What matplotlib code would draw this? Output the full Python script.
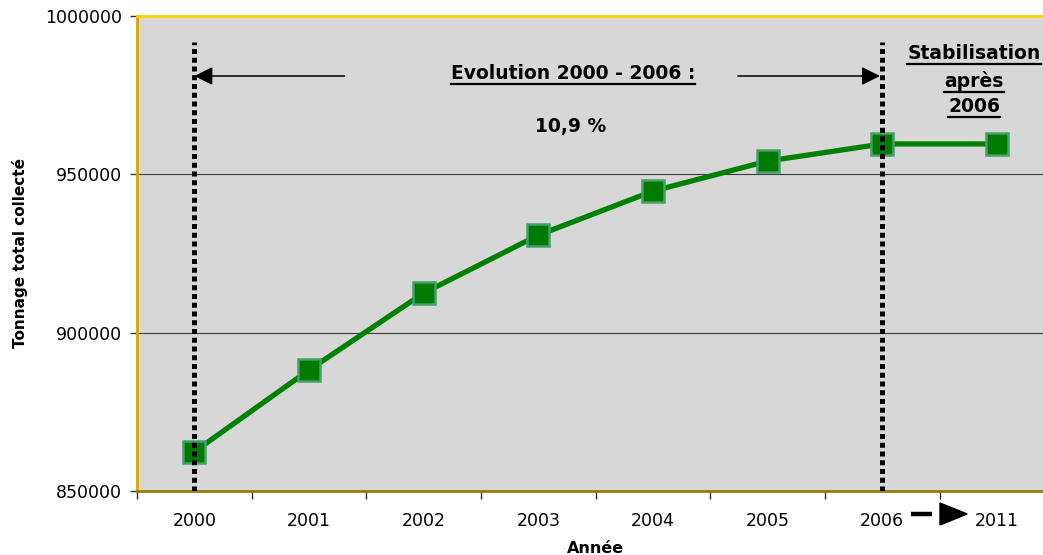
import numpy as np
import matplotlib.pyplot as plt
from matplotlib.lines import Line2D
from matplotlib.patches import Polygon
import matplotlib.transforms as mtransforms

plt.rcParams['font.family'] = ['DejaVu Sans']

years = ['2000', '2001', '2002', '2003', '2004', '2005', '2006', '2011']
tonnage = [862400, 888200, 912500, 930800, 944700, 954200, 959600, 959600]
y_ticks = [850000, 900000, 950000, 1000000]
x = np.arange(len(years))

fig = plt.figure(figsize=(10.43, 5.55), dpi=100)
ax = fig.add_axes([137 / 1043, 64 / 555, 917.3 / 1043, 475 / 555])
ax.set_facecolor('#d7d7d7')

ax.set_xlim(-0.5, len(years) - 0.5)
ax.set_ylim(850000, 1000000)

# horizontal grid only on the inner ticks
for v in [900000, 950000]:
    ax.axhline(v, color='#3a3a3a', lw=0.8, zorder=1)

# courbe du tonnage
ax.plot(x, tonnage, color='#008000', lw=3.8, zorder=3,
        marker='s', markersize=16, markerfacecolor='#007a00',
        markeredgecolor='#45a068', markeredgewidth=1.8)

# bornes 2000 et 2006
for xv in [0, 6]:
    ax.vlines(xv, 850000, 991800, color='black', lw=3.6,
              linestyles=(0, (1.0, 0.75)), zorder=4)

# flèches de l'évolution
arrow = dict(arrowstyle='-|>', color='black', lw=1.1, mutation_scale=28,
             shrinkA=0, shrinkB=0)
ax.annotate('', xy=(0.0, 981050), xytext=(1.31, 981050), arrowprops=arrow, zorder=5)
ax.annotate('', xy=(5.98, 981050), xytext=(4.74, 981050), arrowprops=arrow, zorder=5)

texts = []
texts.append(ax.text(3.30, 981700, 'Evolution 2000 - 2006 :', ha='center', va='center',
                     fontsize=13.5, fontweight='bold', zorder=5))
ax.text(3.28, 965000, '10,9 %', ha='center', va='center',
        fontsize=13.5, fontweight='bold', zorder=5)
for label, yv in [('Stabilisation', 988300), ('après', 979500), ('2006', 971500)]:
    texts.append(ax.text(6.80, yv, label, ha='center', va='center',
                         fontsize=13.5, fontweight='bold', zorder=5))

# axes
ax.set_yticks(y_ticks)
ax.set_yticklabels([str(v) for v in y_ticks], fontsize=12.5)
ax.tick_params(axis='y', direction='out', length=5, width=1, color='#333333', pad=6)

ax.set_xticks(x)
ax.set_xticklabels(years[:6] + ['2006', '2011'], fontsize=12.5)
ax.tick_params(axis='x', which='major', length=0, pad=15)
ax.set_xticks(np.arange(len(years) + 1) - 0.5, minor=True)
ax.tick_params(axis='x', which='minor', direction='out', length=6, width=1, color='#333333')

ax.spines['right'].set_visible(False)
ax.spines['top'].set_color('#ffcc00')
ax.spines['top'].set_linewidth(2)
ax.spines['left'].set_color('#d4a600')
ax.spines['left'].set_linewidth(2)
ax.spines['bottom'].set_color('#9c7a00')
ax.spines['bottom'].set_linewidth(2)

ax.set_ylabel('Tonnage total collecté', fontsize=11, fontweight='bold', labelpad=12)
ax.set_xlabel('Année', fontsize=11.5, fontweight='bold', labelpad=8)

# flèche 2006 -> 2011 sous l'axe
trans = mtransforms.blended_transform_factory(ax.transData, ax.transAxes)
ax.plot([6.25, 6.43], [-0.0484, -0.0484], color='black', lw=3.2, transform=trans,
        clip_on=False, solid_capstyle='butt')
ax.add_patch(Polygon([(6.503, -0.0253), (6.503, -0.0716), (6.74, -0.0484)], closed=True,
                     color='black', transform=trans, clip_on=False))

# soulignement des textes
fig.canvas.draw()
r = fig.canvas.get_renderer()
for t in texts:
    bb = t.get_window_extent(r)
    y0 = bb.y0 - 1
    fig.add_artist(Line2D([bb.x0, bb.x1], [y0, y0], color='black', lw=1.6,
                          transform=None))

fig.savefig('out.png', dpi=100)
